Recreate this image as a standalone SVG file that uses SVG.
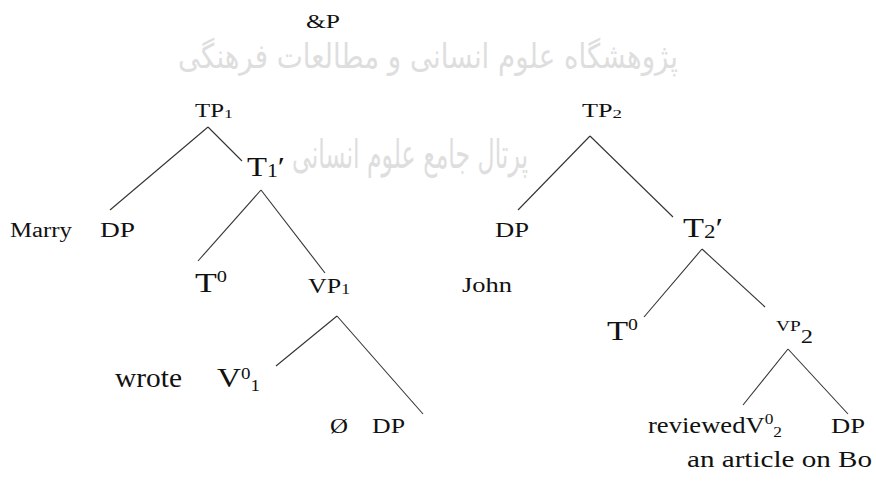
<svg xmlns="http://www.w3.org/2000/svg" width="876" height="481" viewBox="0 0 876 481">
<style>
.t{font-family:"Liberation Serif","Times New Roman",serif;fill:#111}
.wm{font-family:"DejaVu Sans","Noto Sans",sans-serif;fill:#dedede}
.e{stroke:#333;stroke-width:1.1;fill:none}
</style>
<rect width="876" height="481" fill="#fff"/>
<g id="watermark">
<text class="wm" x="428" y="68" font-size="34" text-anchor="middle" textLength="500" lengthAdjust="spacingAndGlyphs">پژوهشگاه علوم انسانی و مطالعات فرهنگی</text>
<text class="wm" x="410" y="168" font-size="40" text-anchor="middle" textLength="236" lengthAdjust="spacingAndGlyphs">پرتال جامع علوم انسانی</text>
</g>
<g id="connectors">
<line class="e" x1="208" y1="127" x2="110" y2="210"/>
<line class="e" x1="208" y1="127" x2="242" y2="161"/>
<line class="e" x1="261" y1="190" x2="198" y2="261"/>
<line class="e" x1="261" y1="190" x2="325" y2="273"/>
<line class="e" x1="337" y1="316" x2="276" y2="366"/>
<line class="e" x1="337" y1="316" x2="423" y2="414"/>
<line class="e" x1="590" y1="136" x2="518" y2="210"/>
<line class="e" x1="590" y1="136" x2="673" y2="217"/>
<line class="e" x1="702" y1="249" x2="644" y2="317"/>
<line class="e" x1="702" y1="249" x2="765" y2="307"/>
<line class="e" x1="788" y1="349" x2="743" y2="405"/>
<line class="e" x1="788" y1="349" x2="848" y2="414"/>
</g>
<g id="andP"><text class="t" x="306" y="28" font-size="19" textLength="34" lengthAdjust="spacingAndGlyphs">&amp;P</text></g>
<g id="TP1"><text class="t" x="195" y="117" font-size="18" textLength="38" lengthAdjust="spacingAndGlyphs">TP<tspan font-size="13" dy="1">1</tspan></text></g>
<g id="T1bar"><text class="t" x="247" y="176" font-size="27" textLength="38" lengthAdjust="spacingAndGlyphs">T<tspan font-size="18" dy="1">1</tspan><tspan dy="-1">′</tspan></text></g>
<g id="Marry"><text class="t" x="10" y="237" font-size="20" textLength="62" lengthAdjust="spacingAndGlyphs">Marry</text></g>
<g id="DP1"><text class="t" x="100" y="237" font-size="20" textLength="35" lengthAdjust="spacingAndGlyphs">DP</text></g>
<g id="T0a"><text class="t" x="195" y="292" font-size="28" textLength="32" lengthAdjust="spacingAndGlyphs">T<tspan font-size="16" dy="-10">0</tspan></text></g>
<g id="VP1"><text class="t" x="308" y="293" font-size="22" textLength="42" lengthAdjust="spacingAndGlyphs">VP<tspan font-size="15" dy="1">1</tspan></text></g>
<g id="wrote"><text class="t" x="115" y="387" font-size="27" textLength="67" lengthAdjust="spacingAndGlyphs">wrote</text></g>
<g id="V01"><text class="t" x="217" y="387" font-size="28" textLength="43" lengthAdjust="spacingAndGlyphs">V<tspan font-size="16" dy="-8">0</tspan><tspan font-size="16" dy="12">1</tspan></text></g>
<g id="empty"><text class="t" x="330" y="433" font-size="22" textLength="18" lengthAdjust="spacingAndGlyphs">Ø</text></g>
<g id="DP2"><text class="t" x="372" y="433" font-size="22" textLength="33" lengthAdjust="spacingAndGlyphs">DP</text></g>
<g id="TP2"><text class="t" x="582" y="117" font-size="18" textLength="40" lengthAdjust="spacingAndGlyphs">TP<tspan font-size="13" dy="1">2</tspan></text></g>
<g id="DP3"><text class="t" x="495" y="237" font-size="20" textLength="34" lengthAdjust="spacingAndGlyphs">DP</text></g>
<g id="T2bar"><text class="t" x="683" y="237" font-size="27" textLength="40" lengthAdjust="spacingAndGlyphs">T<tspan font-size="18" dy="1">2</tspan><tspan dy="-1">′</tspan></text></g>
<g id="John"><text class="t" x="462" y="292" font-size="20" textLength="50" lengthAdjust="spacingAndGlyphs">John</text></g>
<g id="T0b"><text class="t" x="607" y="340" font-size="28" textLength="31" lengthAdjust="spacingAndGlyphs">T<tspan font-size="16" dy="-10">0</tspan></text></g>
<g id="VP2"><text class="t" x="776" y="331" font-size="15" textLength="37" lengthAdjust="spacingAndGlyphs">VP<tspan font-size="19" dy="12">2</tspan></text></g>
<g id="reviewedV02"><text class="t" x="648" y="433" font-size="23" textLength="134" lengthAdjust="spacingAndGlyphs">reviewedV<tspan font-size="15" dy="-9">0</tspan><tspan font-size="15" dy="13">2</tspan></text></g>
<g id="DP4"><text class="t" x="831" y="433" font-size="22" textLength="34" lengthAdjust="spacingAndGlyphs">DP</text></g>
<g id="article"><text class="t" x="687" y="467" font-size="23" textLength="185" lengthAdjust="spacingAndGlyphs">an article on Bo</text></g>
</svg>
